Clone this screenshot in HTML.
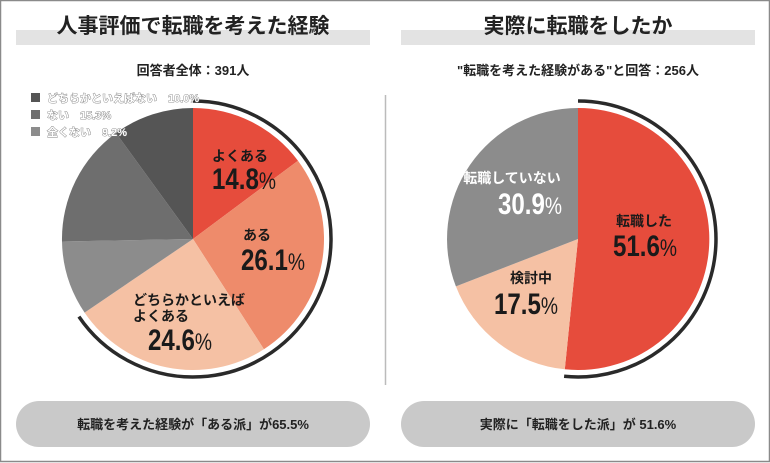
<!DOCTYPE html>
<html><head><meta charset="utf-8"><style>
html,body{margin:0;padding:0;background:#fff;}
svg{display:block;}
text{font-family:"Liberation Sans","Noto Sans CJK JP",sans-serif;}
.n{font-family:"Liberation Sans",sans-serif;font-weight:bold;}
</style></head><body>
<svg width="770" height="463" viewBox="0 0 770 463" xmlns="http://www.w3.org/2000/svg">
<rect x="0.5" y="0.5" width="769" height="461" fill="#fff" stroke="#8a8a8a" stroke-width="1.5"/>
<rect x="16" y="30" width="354" height="15" fill="#e3e3e3"/>
<rect x="401" y="30" width="354" height="15" fill="#e3e3e3"/>
<text x="193" y="33" text-anchor="middle" font-size="21" font-weight="bold" fill="#222">人事評価で転職を考えた経験</text>
<text x="578" y="33" text-anchor="middle" font-size="21" font-weight="bold" fill="#222">実際に転職をしたか</text>
<text x="193" y="75" text-anchor="middle" font-size="13" font-weight="bold" fill="#222">回答者全体：391人</text>
<text x="578" y="75" text-anchor="middle" font-size="13" font-weight="bold" fill="#222">"転職を考えた経験がある"と回答：256人</text>
<line x1="385.5" y1="95" x2="385.5" y2="385" stroke="#bbb" stroke-width="1.5"/>

<path d="M193,239 L193,108 A131,131 0 0 1 298,160.7 Z" fill="#e64c3c"/>
<path d="M193,239 L298,160.7 A131,131 0 0 1 263.9,349.2 Z" fill="#ee8b6b"/>
<path d="M193,239 L263.9,349.2 A131,131 0 0 1 84.6,312.6 Z" fill="#f5c1a4"/>
<path d="M193,239 L84.6,312.6 A131,131 0 0 1 62,241.5 Z" fill="#8c8c8c"/>
<path d="M193,239 L62,241.5 A131,131 0 0 1 116,133 Z" fill="#6e6e6e"/>
<path d="M193,239 L116,133 A131,131 0 0 1 193,108 Z" fill="#555"/>
<path d="M193,101 A138,138 0 1 1 78.9,316.6" fill="none" stroke="#2a2a2a" stroke-width="3.5"/>

<g fill="#1a1a1a" font-weight="bold">
<text x="240" y="161" text-anchor="middle" font-size="14">よくある</text>
<text x="212" y="189" font-size="30" class="n" textLength="64" lengthAdjust="spacingAndGlyphs">14.8<tspan font-weight="normal" font-size="24">%</tspan></text>
<text x="257" y="240" text-anchor="middle" font-size="14">ある</text>
<text x="241" y="270" font-size="30" class="n" textLength="64" lengthAdjust="spacingAndGlyphs">26.1<tspan font-weight="normal" font-size="24">%</tspan></text>
<text x="133" y="305" font-size="14">どちらかといえば</text>
<text x="133" y="321" font-size="14">よくある</text>
<text x="148" y="350" font-size="30" class="n" textLength="64" lengthAdjust="spacingAndGlyphs">24.6<tspan font-weight="normal" font-size="24">%</tspan></text>
</g>

<rect x="31" y="93" width="9" height="9" fill="#555"/>
<rect x="31" y="110" width="9" height="9" fill="#6e6e6e"/>
<rect x="31" y="127" width="9" height="9" fill="#8c8c8c"/>
<g font-size="11" font-weight="bold" fill="#fff" stroke="#777" stroke-width="0.8" paint-order="stroke">
<text x="47" y="102">どちらかといえばない　10.0%</text>
<text x="47" y="119">ない　15.3%</text>
<text x="47" y="136">全くない　9.2%</text>
</g>

<path d="M578,239 L578,108 A131,131 0 1 1 564.8,369.3 Z" fill="#e64c3c"/>
<path d="M578,239 L564.8,369.3 A131,131 0 0 1 455.9,286.4 Z" fill="#f5c1a4"/>
<path d="M578,239 L455.9,286.4 A131,131 0 0 1 578,108 Z" fill="#8c8c8c"/>
<path d="M578,101 A138,138 0 1 1 564.1,376.3" fill="none" stroke="#2a2a2a" stroke-width="3.5"/>

<g font-weight="bold">
<text x="512" y="183" text-anchor="middle" font-size="14" fill="#fff">転職していない</text>
<text x="498" y="214" font-size="30" class="n" fill="#fff" textLength="64" lengthAdjust="spacingAndGlyphs">30.9<tspan font-weight="normal" font-size="24">%</tspan></text>
<text x="644" y="226" text-anchor="middle" font-size="14" fill="#1a1a1a">転職した</text>
<text x="613" y="256" font-size="30" class="n" fill="#1a1a1a" textLength="64" lengthAdjust="spacingAndGlyphs">51.6<tspan font-weight="normal" font-size="24">%</tspan></text>
<text x="531" y="283" text-anchor="middle" font-size="14" fill="#1a1a1a">検討中</text>
<text x="494" y="314" font-size="30" class="n" fill="#1a1a1a" textLength="64" lengthAdjust="spacingAndGlyphs">17.5<tspan font-weight="normal" font-size="24">%</tspan></text>
</g>

<rect x="16" y="401" width="354" height="46" rx="23" fill="#c9c9c9"/>
<rect x="401" y="401" width="354" height="46" rx="23" fill="#c9c9c9"/>
<text x="193" y="429" text-anchor="middle" font-size="13" font-weight="bold" fill="#222">転職を考えた経験が「ある派」が65.5%</text>
<text x="578" y="429" text-anchor="middle" font-size="13" font-weight="bold" fill="#222">実際に「転職をした派」が 51.6%</text>
</svg>
</body></html>
